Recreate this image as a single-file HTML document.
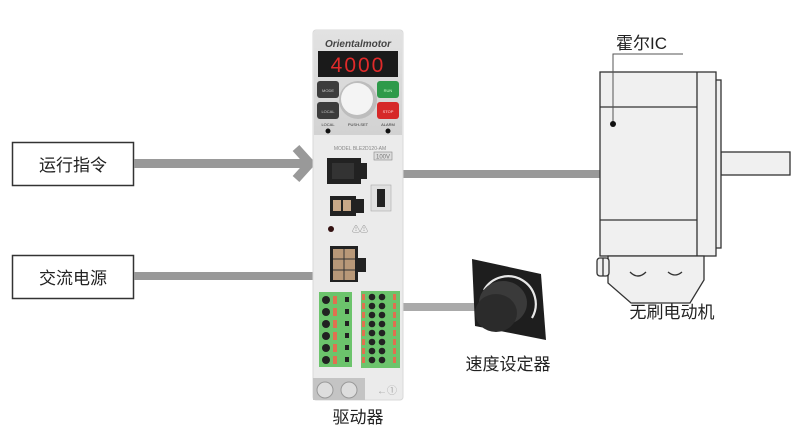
<!DOCTYPE html>
<html><head><meta charset="utf-8"><style>
html,body{margin:0;padding:0;background:#fff;width:803px;height:444px;overflow:hidden}
text{font-family:"Liberation Sans","Noto Sans CJK SC",sans-serif}
</style></head><body>
<svg width="803" height="444" viewBox="0 0 803 444" xmlns="http://www.w3.org/2000/svg">
<defs><linearGradient id="tp" x1="0" y1="0" x2="0" y2="1"><stop offset="0" stop-color="#e2e2e2"/><stop offset="1" stop-color="#d2d2d2"/></linearGradient></defs>
<!-- left boxes -->
<rect x="12.5" y="142.5" width="121" height="43" fill="#fff" stroke="#333" stroke-width="1.5"/>
<text x="73" y="171" font-size="17" text-anchor="middle" fill="#222" font-family="Noto Sans CJK SC,sans-serif">运行指令</text>
<rect x="12.5" y="255.5" width="121" height="43" fill="#fff" stroke="#333" stroke-width="1.5"/>
<text x="73" y="284" font-size="17" text-anchor="middle" fill="#222" font-family="Noto Sans CJK SC,sans-serif">交流电源</text>
<!-- connectors -->
<rect x="134" y="159" width="174" height="9" fill="#999"/>
<polyline points="296,148 310,163.5 296,179" fill="none" stroke="#999" stroke-width="9"/>
<rect x="134" y="272" width="180" height="8" fill="#999"/>
<rect x="403" y="170" width="198" height="8" fill="#999"/>
<rect x="403" y="303" width="72" height="8" fill="#aaa"/>
<!-- driver -->
<rect x="313" y="30" width="90" height="370" rx="3" fill="#ebebeb" stroke="#d8d8d8"/>
<rect x="314" y="31" width="88" height="104" fill="url(#tp)"/>
<text x="358" y="47" font-size="10" font-weight="bold" font-style="italic" text-anchor="middle" fill="#444">Orientalmotor</text>
<rect x="318" y="51" width="80" height="26" fill="#1a1a1a"/>
<text x="358" y="72" font-size="21" font-family="Liberation Mono,monospace" text-anchor="middle" fill="#e02a2a" letter-spacing="2">4000</text>
<rect x="317" y="81" width="22" height="17" rx="3" fill="#3c3c3c"/>
<rect x="317" y="102" width="22" height="17" rx="3" fill="#3c3c3c"/>
<rect x="377" y="81" width="22" height="17" rx="3" fill="#2e9a4a"/>
<rect x="377" y="102" width="22" height="17" rx="3" fill="#d62828"/>
<text x="328" y="92" font-size="4" fill="#ccc" text-anchor="middle">MODE</text>
<text x="328" y="113" font-size="4" fill="#ccc" text-anchor="middle">LOCAL</text>
<text x="388" y="92" font-size="4" fill="#cfc" text-anchor="middle">RUN</text>
<text x="388" y="113" font-size="4" fill="#fdd" text-anchor="middle">STOP</text>
<circle cx="358" cy="100" r="19" fill="#bdbdbd"/>
<circle cx="357" cy="99" r="16" fill="#f4f4f4"/>
<text x="328" y="126" font-size="4" fill="#333" text-anchor="middle">LOCAL</text>
<text x="358" y="126" font-size="4" fill="#333" text-anchor="middle">PUSH-SET</text>
<text x="388" y="126" font-size="4" fill="#333" text-anchor="middle">ALARM</text>
<circle cx="328" cy="131" r="2.5" fill="#111"/><circle cx="388" cy="131" r="2.5" fill="#111"/>
<text x="360" y="150" font-size="5" fill="#888" text-anchor="middle">MODEL BLE2D120-AM</text>
<rect x="374" y="152" width="18" height="8" fill="#ddd" stroke="#888" stroke-width="0.6"/>
<text x="383" y="158.5" font-size="6" fill="#777" text-anchor="middle">100V</text>
<rect x="327" y="158" width="34" height="26" fill="#222"/><rect x="361" y="163" width="6" height="16" fill="#222"/>
<rect x="332" y="163" width="22" height="16" fill="#333"/>
<rect x="371" y="185" width="20" height="26" fill="#e0e0e0" stroke="#aaa" stroke-width="0.6"/>
<rect x="377" y="189" width="8" height="18" fill="#222"/>
<rect x="330" y="196" width="26" height="20" fill="#222"/><rect x="356" y="199" width="8" height="14" fill="#222"/>
<rect x="333" y="200" width="8" height="11" fill="#c8a888"/><rect x="343" y="200" width="8" height="11" fill="#c8a888"/>
<circle cx="331" cy="229" r="3" fill="#311"/>
<text x="352" y="232" font-size="8" fill="#999">⚠⚠</text>
<rect x="330" y="246" width="28" height="36" fill="#222"/><rect x="358" y="258" width="8" height="14" fill="#222"/>
<rect x="333" y="249" width="22" height="31" fill="#b89878"/>
<line x1="344" y1="249" x2="344" y2="280" stroke="#333"/><line x1="333" y1="259" x2="355" y2="259" stroke="#333"/><line x1="333" y1="270" x2="355" y2="270" stroke="#333"/>
<rect x="319" y="292" width="33" height="75" fill="#6cc46c"/>
<g fill="#222"><circle cx="326" cy="300" r="4"/><circle cx="326" cy="312" r="4"/><circle cx="326" cy="324" r="4"/><circle cx="326" cy="336" r="4"/><circle cx="326" cy="348" r="4"/><circle cx="326" cy="360" r="4"/></g>
<g fill="#e07050"><rect x="333" y="296" width="4" height="8"/><rect x="333" y="308" width="4" height="8"/><rect x="333" y="320" width="4" height="8"/><rect x="333" y="332" width="4" height="8"/><rect x="333" y="344" width="4" height="8"/><rect x="333" y="356" width="4" height="8"/></g>
<g fill="#222"><rect x="345" y="297" width="4" height="5"/><rect x="345" y="309" width="4" height="5"/><rect x="345" y="321" width="4" height="5"/><rect x="345" y="333" width="4" height="5"/><rect x="345" y="345" width="4" height="5"/><rect x="345" y="357" width="4" height="5"/></g>
<rect x="361" y="291" width="39" height="77" fill="#6cc46c"/>
<g id="r"><rect x="362" y="294" width="3" height="6" fill="#e07050"/><circle cx="372" cy="297" r="3.3" fill="#222"/><circle cx="382" cy="297" r="3.3" fill="#222"/><rect x="393" y="294" width="3" height="6" fill="#e07050"/></g>
<use href="#r" y="9"/><use href="#r" y="18"/><use href="#r" y="27"/><use href="#r" y="36"/><use href="#r" y="45"/><use href="#r" y="54"/><use href="#r" y="63"/>
<rect x="313" y="378" width="52" height="22" fill="#c4c4c4"/>
<circle cx="325" cy="390" r="8" fill="#ddd" stroke="#999"/><circle cx="349" cy="390" r="8" fill="#ddd" stroke="#999"/>
<text x="377" y="394" font-size="10" fill="#aaa">←①</text>
<text x="358" y="423" font-size="17" text-anchor="middle" fill="#222" font-family="Noto Sans CJK SC,sans-serif">驱动器</text>
<!-- speed dial -->
<polygon points="472,259 541,274 546,340 475,326" fill="#1e1e1e"/>
<path d="M484,290 A27,27 0 0 1 532,318" fill="none" stroke="#e8e8e8" stroke-width="2.2"/>
<ellipse cx="503" cy="303" rx="24" ry="22" fill="#3a3a3a"/>
<ellipse cx="496" cy="313" rx="21" ry="19" fill="#2b2b2b"/>
<text x="508" y="370" font-size="17" text-anchor="middle" fill="#222" font-family="Noto Sans CJK SC,sans-serif">速度设定器</text>
<!-- motor -->
<g stroke="#333" stroke-width="1.3" fill="#f0f0f0">
<rect x="721" y="152" width="69" height="23"/>
<rect x="715" y="80" width="6" height="168"/>
<rect x="600" y="72" width="116" height="184"/>
<path d="M608,256 L608,283 L631,303 L690,303 L704,280 L704,256 Z"/>
<rect x="597" y="258" width="12" height="18" rx="3"/>
</g>
<g stroke="#333" stroke-width="1.3" fill="none">
<line x1="600" y1="107" x2="697" y2="107"/><line x1="600" y1="220" x2="697" y2="220"/>
<line x1="697" y1="72" x2="697" y2="256"/>
<line x1="603" y1="258" x2="603" y2="276"/>
<path d="M630,272 q8,8 16,0"/><path d="M682,272 q-7,6 -14,0"/>
</g>
<polyline points="613,123 613,54 683,54" fill="none" stroke="#555" stroke-width="1"/>
<circle cx="613" cy="124" r="3" fill="#111"/>
<text x="616" y="49" font-size="17" fill="#222" font-family="Noto Sans CJK SC,sans-serif">霍尔IC</text>
<text x="672" y="318" font-size="17" text-anchor="middle" fill="#222" font-family="Noto Sans CJK SC,sans-serif">无刷电动机</text>
</svg>
</body></html>
